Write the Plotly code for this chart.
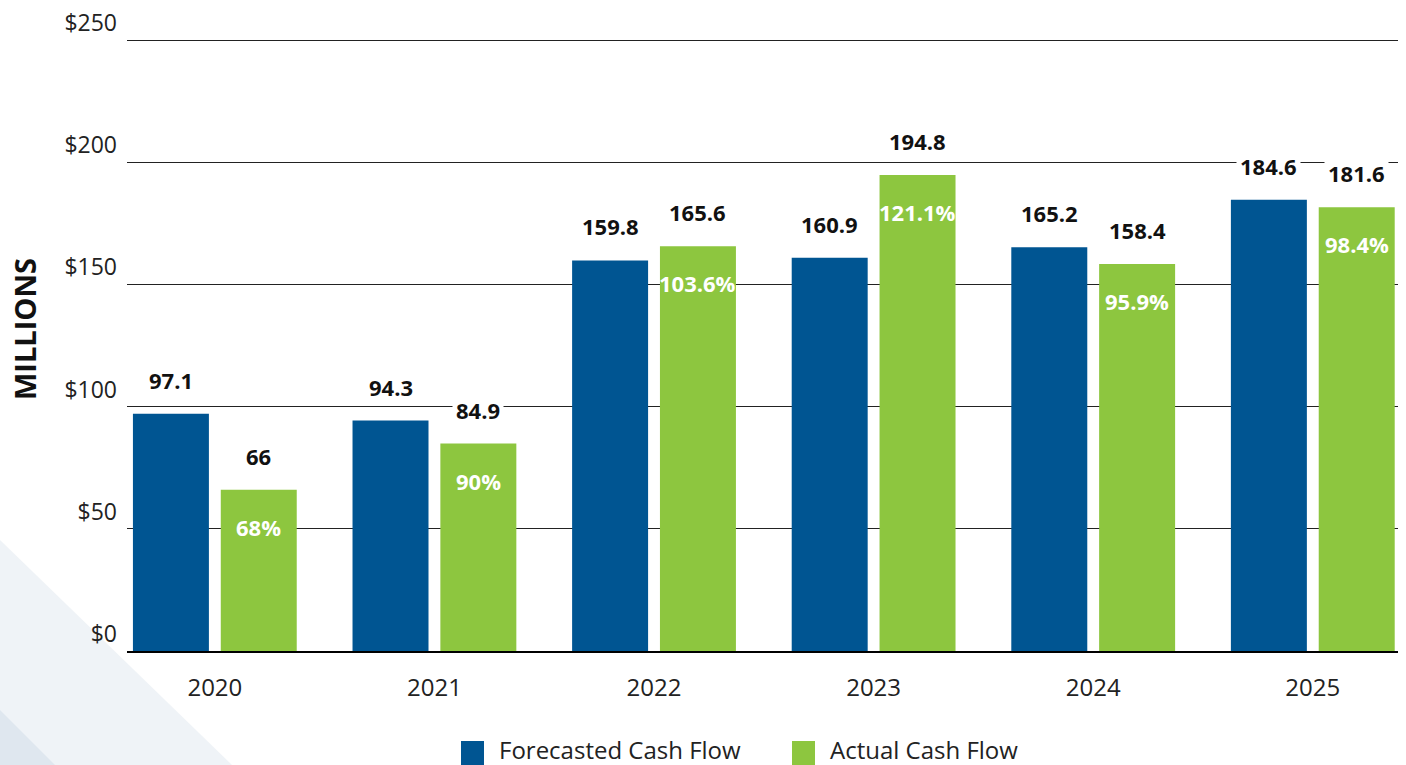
import plotly.graph_objects as go

years = ["2020", "2021", "2022", "2023", "2024", "2025"]
forecast = [97.1, 94.3, 159.8, 160.9, 165.2, 184.6]
actual = [66, 84.9, 165.6, 194.8, 158.4, 181.6]
pct_labels = ["68%", "90%", "103.6%", "121.1%", "95.9%", "98.4%"]
y_ticks = [0, 50, 100, 150, 200, 250]
y_tick_labels = ["$0", "$50", "$100", "$150", "$200", "$250"]
series_names = ["Forecasted Cash Flow", "Actual Cash Flow"]

BLUE = "#005592"
GREEN = "#8DC63F"
FONT = "Open Sans"

L, R, T, B = 127, 8, 35, 114
W, H = 1406, 765
PW, PH = W - L - R, H - T - B
Y_TOP = 252.05


def px_x(px):
    return (px - L) / PW


def px_y(py):
    return (H - B - py) / PH


fig = go.Figure()
fig.add_trace(go.Bar(x=years, y=forecast, width=0.346, offset=-0.373,
                     marker=dict(color=BLUE, line=dict(width=0)),
                     name=series_names[0], showlegend=False))
fig.add_trace(go.Bar(x=years, y=actual, width=0.346, offset=0.027,
                     marker=dict(color=GREEN, line=dict(width=0)),
                     name=series_names[1], showlegend=False))

annotations = []
for i, (f, a, p) in enumerate(zip(forecast, actual, pct_labels)):
    annotations.append(dict(x=i - 0.2, y=f, xref="x", yref="y", text=f"{f:g}",
                            showarrow=False, yshift=34, bgcolor="white", borderpad=3,
                            font=dict(family=FONT, size=22, color="#111", weight="bold")))
    annotations.append(dict(x=i + 0.2, y=a, xref="x", yref="y", text=f"{a:g}",
                            showarrow=False, yshift=34, bgcolor="white", borderpad=3,
                            font=dict(family=FONT, size=22, color="#111", weight="bold")))
    annotations.append(dict(x=i + 0.2, y=a, xref="x", yref="y", text=p,
                            showarrow=False, yshift=-37,
                            font=dict(family=FONT, size=22, color="white", weight="bold")))

annotations.append(dict(x=px_x(24), y=px_y(329), xref="paper", yref="paper",
                        xanchor="center", yanchor="middle",
                        text="MILLIONS", textangle=-90, showarrow=False,
                        font=dict(family=FONT, size=29, color="#111", weight="bold")))

# custom legend
legend_items = [(series_names[0], BLUE, 461, 497), (series_names[1], GREEN, 792, 828)]
shapes = [
    dict(type="path", xref="paper", yref="paper", layer="below",
         path=f"M {px_x(0)},{px_y(540)} L {px_x(232)},{px_y(765)} L {px_x(0)},{px_y(765)} Z",
         fillcolor="#eff3f7", line=dict(width=0)),
    dict(type="path", xref="paper", yref="paper", layer="below",
         path=f"M {px_x(0)},{px_y(710)} L {px_x(55)},{px_y(765)} L {px_x(0)},{px_y(765)} Z",
         fillcolor="#dfe7ef", line=dict(width=0)),
]
for name, color, sx, tx in legend_items:
    shapes.append(dict(type="rect", xref="paper", yref="paper",
                       x0=px_x(sx), x1=px_x(sx + 23), y0=px_y(765), y1=px_y(741),
                       fillcolor=color, line=dict(width=0)))
    annotations.append(dict(x=px_x(tx), y=px_y(749), xref="paper", yref="paper",
                            xanchor="left", yanchor="middle", text=name, showarrow=False,
                            font=dict(family=FONT, size=24, color="#222")))

fig.update_layout(
    width=W, height=H, autosize=False,
    margin=dict(l=L, r=R, t=T, b=B, pad=0),
    paper_bgcolor="white", plot_bgcolor="rgba(0,0,0,0)",
    barmode="group", showlegend=False,
    annotations=annotations, shapes=shapes,
    font=dict(family=FONT, color="#222"),
    xaxis=dict(type="category", range=[-0.40, 5.388], showgrid=False,
               showline=True, linecolor="#000", linewidth=2, automargin=False,
               tickfont=dict(family=FONT, size=24, color="#222"),
               ticklabelstandoff=14, fixedrange=True),
    yaxis=dict(range=[0, Y_TOP], tickmode="array", tickvals=y_ticks,
               ticktext=y_tick_labels, automargin=False,
               showgrid=True, gridcolor="#222", gridwidth=1, zeroline=False,
               tickfont=dict(family=FONT, size=23, color="#222"),
               ticklabelshift=-17, ticklabelstandoff=9, fixedrange=True),
)

fig.write_html("out.html", config={"displayModeBar": False},
               post_script="document.body.style.margin='0';document.body.style.overflow='hidden';")
